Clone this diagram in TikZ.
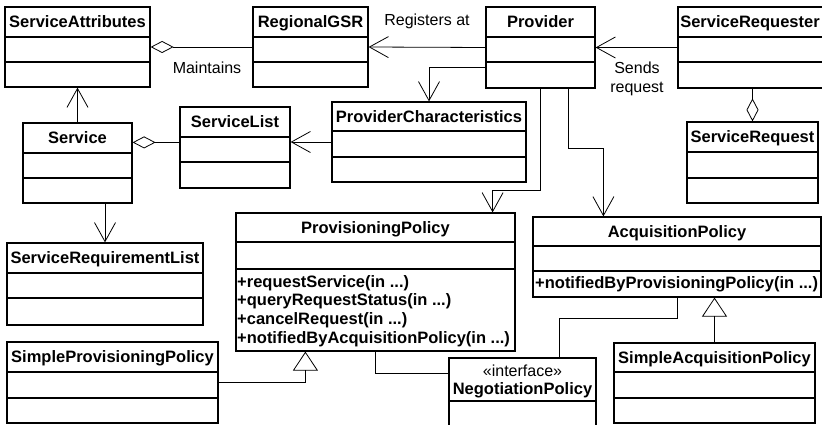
\documentclass[tikz,border=0pt]{standalone}
\usepackage{fontspec}
\setmainfont{Liberation Sans}
\usetikzlibrary{arrows.meta}

\begin{document}
\begin{tikzpicture}[x=1pt,y=-1pt,
    box/.style={draw, line width=1.2pt, inner sep=0pt},
    div/.style={line width=1.2pt},
    title/.style={font=\fontsize{16.5}{19}\selectfont\bfseries, inner sep=0pt, text height=11.8pt, text depth=0pt},
    ops/.style={font=\fontsize{16.5}{18.7}\selectfont\bfseries, align=left, anchor=west, inner sep=0pt},
    lbl/.style={font=\fontsize{16}{19}\selectfont, inner sep=0pt, align=center},
    link/.style={line width=0.8pt},
    assoc/.style={link, -{Straight Barb[length=19pt,width=21pt]}},
    agg/.style={link, -{Diamond[open,length=23pt,width=12pt]}},
    gen/.style={link, -{Triangle[open,length=19pt,width=25pt]}}]
      \useasboundingbox (0,0) rectangle (822,425);
      \clip (0,0) rectangle (822,425);
      % classes
      \node[box, minimum width=145, minimum height=80] (sa) at (77.5,47) {};
      \draw[div] (5,37) -- (150,37) (5,62) -- (150,62);
      \node[title] (sa-t) at (77.5,22) {ServiceAttributes};
      \node[box, minimum width=115, minimum height=80] (gsr) at (310.5,47) {};
      \draw[div] (253,37) -- (368,37) (253,62) -- (368,62);
      \node[title] (gsr-t) at (310.5,22) {RegionalGSR};
      \node[box, minimum width=109, minimum height=81] (prov) at (540.5,47.5) {};
      \draw[div] (486,37) -- (595,37) (486,62) -- (595,62);
      \node[title] (prov-t) at (540.5,22) {Provider};
      \node[box, minimum width=146, minimum height=81] (sreq) at (751,47.5) {};
      \draw[div] (678,37) -- (824,37) (678,62) -- (824,62);
      \node[title] (sreq-t) at (750,22) {ServiceRequester};
      \node[box, minimum width=109, minimum height=80] (svc) at (77.5,163) {};
      \draw[div] (23,153) -- (132,153) (23,178) -- (132,178);
      \node[title] (svc-t) at (77.5,138) {Service};
      \node[box, minimum width=110, minimum height=81] (sl) at (235,147.5) {};
      \draw[div] (180,137) -- (290,137) (180,162) -- (290,162);
      \node[title] (sl-t) at (235,122) {ServiceList};
      \node[box, minimum width=194, minimum height=80] (pc) at (429,142) {};
      \draw[div] (332,131) -- (526,131) (332,157) -- (526,157);
      \node[title] (pc-t) at (429,116.5) {ProviderCharacteristics};
      \node[box, minimum width=131, minimum height=81] (srq) at (752.5,162.5) {};
      \draw[div] (687,152) -- (818,152) (687,178) -- (818,178);
      \node[title] (srq-t) at (752.5,137) {ServiceRequest};
      \node[box, minimum width=196, minimum height=82] (srl) at (105,284) {};
      \draw[div] (7,273) -- (203,273) (7,298) -- (203,298);
      \node[title] (srl-t) at (105,258) {ServiceRequirementList};
      \node[box, minimum width=279, minimum height=138] (pp) at (375.5,282) {};
      \draw[div] (236,242) -- (515,242) (236,269) -- (515,269);
      \node[title] (pp-t) at (375.5,227.5) {ProvisioningPolicy};
      \node[ops] (pp-ops) at (237,311) {+requestService(in ...)\\+queryRequestStatus(in ...)\\+cancelRequest(in ...)\\+notifiedByAcquisitionPolicy(in ...)};
      \node[box, minimum width=288, minimum height=80] (ap) at (677,257) {};
      \draw[div] (533,246) -- (821,246) (533,271) -- (821,271);
      \node[title] (ap-t) at (677,231.5) {AcquisitionPolicy};
      \node[ops] (ap-ops) at (535,284) {+notifiedByProvisioningPolicy(in ...)};
      \node[box, minimum width=211, minimum height=81] (spp) at (112.5,382.5) {};
      \draw[div] (7,372) -- (218,372) (7,398) -- (218,398);
      \node[title] (spp-t) at (112.5,357) {SimpleProvisioningPolicy};
      \node[box, minimum width=147, minimum height=82] (np) at (522.5,399) {};
      \draw[div] (449,401) -- (596,401);
      \node[lbl] (np-s) at (522.5,371) {«interface»};
      \node[title] (np-t) at (522.5,389) {NegotiationPolicy};
      \node[box, minimum width=201, minimum height=80] (sap) at (714.5,383) {};
      \draw[div] (614,372) -- (815,372) (614,398) -- (815,398);
      \node[title] (sap-t) at (714.5,357.5) {SimpleAcquisitionPolicy};
      % connectors
      \draw[agg] (gsr.west) -- (sa.east);
      \node[lbl] (maint) at (207,68) {Maintains};
      \draw[assoc] (prov.west) -- (gsr.east);
      \node[lbl] (reg) at (427,21) {Registers at};
      \draw[assoc] (sreq.west) -- (prov.east);
      \node[lbl] (sends) at (637,79) {Sends\\request};
      \draw[assoc] ([yshift=-61pt]prov.north west) -| (pc.north);
      \draw[assoc] (pc.west) -- (pc.west -| sl.east);
      \draw[agg] ([yshift=-36pt]sl.north west) -- ([yshift=-36pt]sl.north west -| svc.east);
      \draw[assoc] (svc.north) -- (sa.south);
      \draw[assoc] (svc.south -| srl.north) -- (srl.north);
      \draw[agg] (sreq.south -| srq.north) -- (srq.north);
      \draw[assoc] (prov.south) -- ++(0,102) -| ([xshift=-23pt]pp.north east);
      \draw[assoc] ([xshift=-27pt]prov.south east) -- ++(0,60) -| ([xshift=71pt]ap.north west);
      \draw[gen] (spp.east) -| ([xshift=70pt]pp.south west);
      \draw[link] (pp.south) |- ([yshift=-16pt]np.north west);
      \draw[link] (ap.south) -- ++(0,21) -| ([xshift=-37pt]np.north east);
      \draw[gen] (sap.north) -- (sap.north |- ap.south);
\end{tikzpicture}
\end{document}
